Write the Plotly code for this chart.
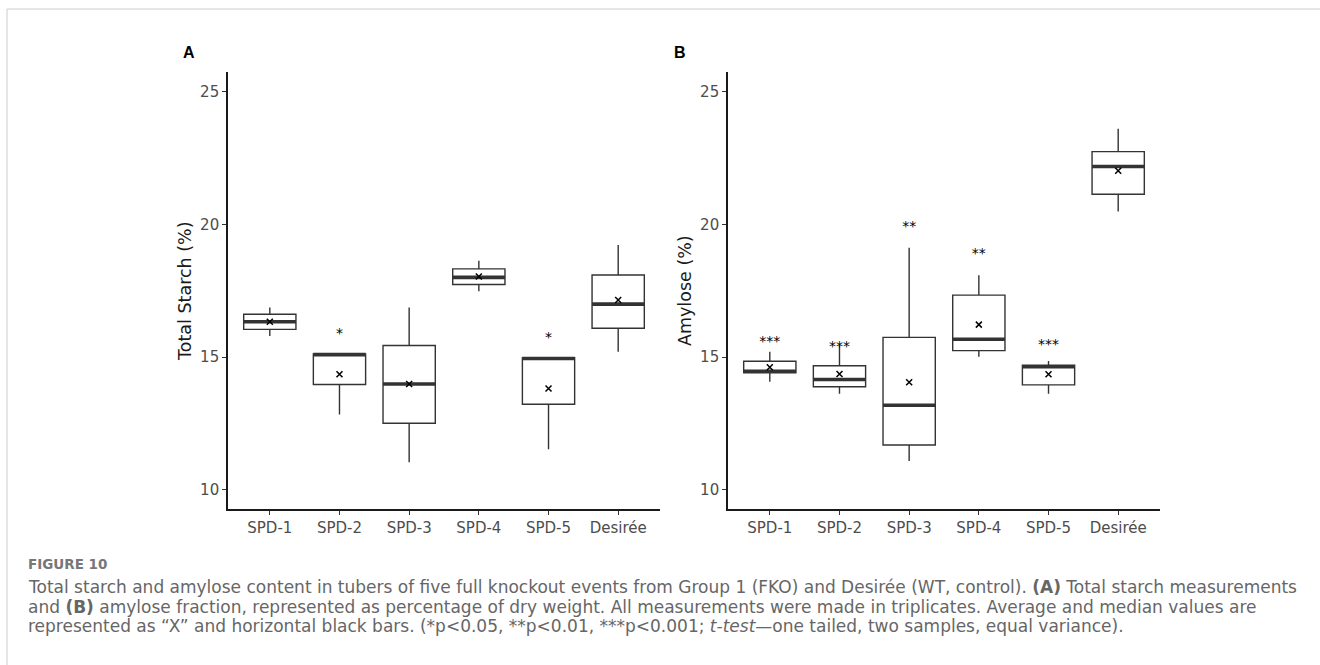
import plotly.graph_objects as go

W, H = 1320, 665

categories = ["SPD-1", "SPD-2", "SPD-3", "SPD-4", "SPD-5", "Desirée"]
positions = [1, 2, 3, 4, 5, 6]

# Panel A: Total starch (%)
starch_min = [15.80, 12.84, 11.04, 17.49, 11.53, 15.21]
starch_q1 = [16.05, 13.97, 12.51, 17.74, 13.23, 16.09]
starch_med = [16.34, 15.10, 13.99, 18.01, 14.95, 17.00]
starch_q3 = [16.62, 15.12, 15.44, 18.33, 14.98, 18.10]
starch_max = [16.87, 15.12, 16.87, 18.64, 15.00, 19.23]
starch_mean = [16.34, 14.36, 13.99, 18.04, 13.82, 17.16]
starch_sig = ["", "*", "", "", "*", ""]
starch_sig_y = [None, 15.97, None, None, 15.84, None]

# Panel B: Amylose (%)
amyl_min = [14.08, 13.62, 11.09, 15.02, 13.62, 20.49]
amyl_q1 = [14.41, 13.89, 11.69, 15.25, 13.96, 21.14]
amyl_med = [14.47, 14.16, 13.19, 15.68, 14.64, 22.19]
amyl_q3 = [14.85, 14.68, 15.75, 17.34, 14.70, 22.75]
amyl_max = [15.21, 15.45, 19.13, 18.09, 14.86, 23.61]
amyl_mean = [14.62, 14.37, 14.06, 16.23, 14.36, 22.03]
amyl_sig = ["***", "***", "**", "**", "***", ""]
amyl_sig_y = [15.68, 15.49, 20.01, 19.00, 15.57, None]

y_ticks = [10, 15, 20, 25]

BOX_W = 0.75
LINE_C = "#333333"

fig = go.Figure()


def add_panel(xa, ya, lo, q1, med, q3, hi, mean, sig, sig_y):
    fig.add_trace(go.Box(
        x=positions, q1=q1, median=med, q3=q3, lowerfence=lo, upperfence=hi,
        width=BOX_W, whiskerwidth=0, fillcolor="white",
        line=dict(color=LINE_C, width=1.4), boxpoints=False,
        xaxis=xa, yaxis=ya, showlegend=False, hoverinfo="skip"))
    mx, my = [], []
    for p, m in zip(positions, med):
        mx += [p - BOX_W / 2, p + BOX_W / 2, None]
        my += [m, m, None]
    fig.add_trace(go.Scatter(x=mx, y=my, mode="lines",
                             line=dict(color=LINE_C, width=3.6),
                             xaxis=xa, yaxis=ya, showlegend=False, hoverinfo="skip"))
    fig.add_trace(go.Scatter(x=positions, y=mean, mode="markers",
                             marker=dict(symbol="x-thin", size=6,
                                         line=dict(color="black", width=1.5)),
                             xaxis=xa, yaxis=ya, showlegend=False, hoverinfo="skip"))
    sx = [p for p, s in zip(positions, sig) if s]
    sy = [v - 0.12 for v, s in zip(sig_y, sig) if s]
    st = [s for s in sig if s]
    fig.add_trace(go.Scatter(x=sx, y=sy, mode="text", text=st,
                             textfont=dict(family="DejaVu Sans", size=14, color="black"),
                             textposition="middle center",
                             xaxis=xa, yaxis=ya, showlegend=False, hoverinfo="skip"))


add_panel("x", "y", starch_min, starch_q1, starch_med, starch_q3, starch_max,
          starch_mean, starch_sig, starch_sig_y)
add_panel("x2", "y2", amyl_min, amyl_q1, amyl_med, amyl_q3, amyl_max,
          amyl_mean, amyl_sig, amyl_sig_y)

ydom = [1 - 509 / H, 1 - 72 / H]
tick_font = dict(family="DejaVu Sans", size=15, color="#4d4d4d")
xaxis_common = dict(
    range=[0.4, 6.6], tickmode="array", tickvals=positions, ticktext=categories,
    showline=True, linecolor="#1a1a1a", linewidth=1.6, ticks="outside",
    ticklen=4, tickwidth=1.1, tickcolor=LINE_C, showgrid=False, zeroline=False,
    tickfont=tick_font,
)
yaxis_common = dict(
    range=[9.28, 25.75], tickmode="array", tickvals=y_ticks,
    showline=True, linecolor="#1a1a1a", linewidth=1.6, ticks="outside",
    ticklen=4, tickwidth=1.1, tickcolor=LINE_C, showgrid=False, zeroline=False,
    tickfont=tick_font, domain=ydom,
)

fig.update_layout(
    width=W, height=H, margin=dict(l=0, r=0, t=0, b=0),
    paper_bgcolor="white", plot_bgcolor="white",
    xaxis=dict(domain=[228 / W, 660 / W], anchor="y", **xaxis_common),
    yaxis=dict(anchor="x", **yaxis_common),
    xaxis2=dict(domain=[728 / W, 1160 / W], anchor="y2", **xaxis_common),
    yaxis2=dict(anchor="x2", **yaxis_common),
)


def pa(text, x, y, font, **kw):
    d = dict(text=text, x=x / W, y=1 - y / H, xref="paper", yref="paper",
             showarrow=False, font=font, xanchor="center", yanchor="middle")
    d.update(kw)
    return d


ann = []
letter_font = dict(family="Liberation Sans", size=16, color="black")
ann.append(pa("<b>A</b>", 189, 53, letter_font))
ann.append(pa("<b>B</b>", 680, 53, letter_font))
title_font = dict(family="DejaVu Sans", size=17.5, color="#1a1a1a")
ann.append(pa("Total Starch (%)", 185, 291, title_font, textangle=-90))
ann.append(pa("Amylose (%)", 685, 291, title_font, textangle=-90))

ann.append(pa("<b>FIGURE 10</b>", 26, 564, dict(family="DejaVu Sans", size=13.5, color="#777777"),
              xanchor="left"))
cap_font = dict(family="DejaVu Sans", size=17, color="#666666")
caption_lines = [
    "Total starch and amylose content in tubers of five full knockout events from Group 1 (FKO) and Desirée (WT, control). <b>(A)</b> Total starch measurements",
    "and <b>(B)</b> amylose fraction, represented as percentage of dry weight. All measurements were made in triplicates. Average and median values are",
    "represented as “X” and horizontal black bars. (*p&lt;0.05, **p&lt;0.01, ***p&lt;0.001; <i>t-test</i>—one tailed, two samples, equal variance).",
]
for i, line in enumerate(caption_lines):
    ann.append(pa(line, 26, 587 + 19.5 * i, cap_font, xanchor="left"))
fig.update_layout(annotations=ann)

# figure frame
fig.add_shape(type="rect", xref="paper", yref="paper",
              x0=7 / W, x1=1.05, y0=1 - 9 / H, y1=-0.05,
              line=dict(color="#cccccc", width=1), fillcolor="rgba(0,0,0,0)", layer="below")

fig.write_html("out.html", config={"displayModeBar": False},
               post_script="document.body.style.margin='0';document.body.style.overflow='hidden';")
